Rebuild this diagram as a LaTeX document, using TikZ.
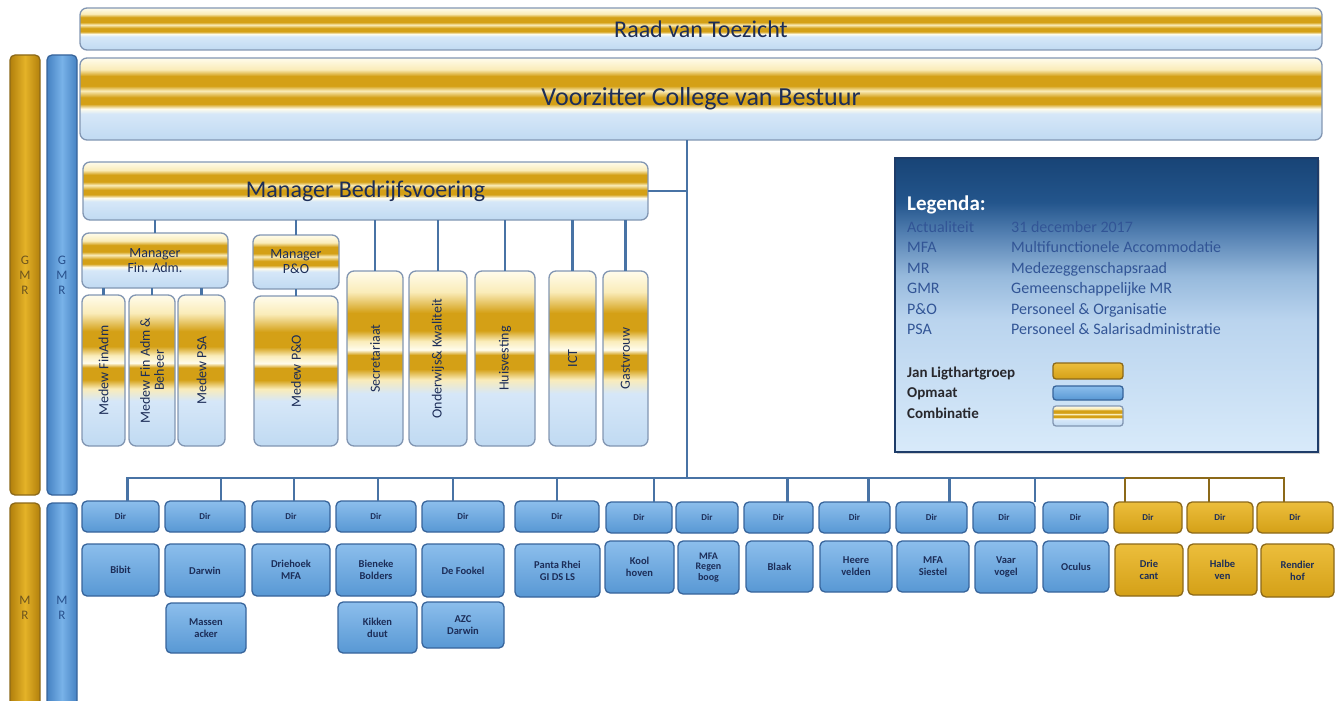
\documentclass[tikz,border=0pt]{standalone}
\usepackage{fontspec}
\setmainfont{Carlito}
\usetikzlibrary{shadows}
\definecolor{gold}{RGB}{212,160,23}
\definecolor{goldD}{RGB}{178,128,12}
\definecolor{goldL}{RGB}{228,178,40}
\definecolor{goldT}{RGB}{236,190,60}
\definecolor{goldB}{RGB}{140,105,25}
\definecolor{goldTxt}{RGB}{110,85,30}
\definecolor{blueM}{RGB}{88,152,212}
\definecolor{blueT}{RGB}{140,190,236}
\definecolor{blueD}{RGB}{70,130,195}
\definecolor{blueL}{RGB}{120,178,232}
\definecolor{blueB}{RGB}{55,100,155}
\definecolor{blueTxt}{RGB}{40,80,140}
\definecolor{navy}{RGB}{28,45,88}
\definecolor{cbl}{RGB}{192,218,242}
\definecolor{cbl2}{RGB}{214,231,248}
\definecolor{ccream}{RGB}{250,236,185}
\definecolor{cwhite}{RGB}{255,252,236}
\definecolor{cgold}{RGB}{212,160,22}
\definecolor{cbord}{RGB}{130,150,178}
\definecolor{lineC}{RGB}{72,115,165}
\definecolor{legB}{RGB}{30,60,105}
\definecolor{legC}{RGB}{50,85,150}
\definecolor{leg0}{RGB}{24,68,118}
\definecolor{leg1}{RGB}{35,85,140}
\definecolor{leg2}{RGB}{80,125,175}
\definecolor{leg3}{RGB}{150,185,220}
\definecolor{leg4}{RGB}{186,212,238}
\definecolor{leg5}{RGB}{216,234,250}
\definecolor{darkT}{RGB}{40,40,45}
\pgfdeclareverticalshading{combo}{100bp}{color(0bp)=(cbl); color(25bp)=(cbl); color(41bp)=(cbl2); color(44bp)=(cwhite); color(47bp)=(cgold); color(51bp)=(cgold); color(55bp)=(ccream); color(58bp)=(cgold); color(64bp)=(cgold); color(68bp)=(ccream); color(75bp)=(cwhite); color(100bp)=(cwhite)}
\pgfdeclareverticalshading{combov}{100bp}{color(0bp)=(cbl); color(25bp)=(cbl); color(40bp)=(cbl2); color(44bp)=(ccream); color(47bp)=(cgold); color(51bp)=(cgold); color(52.5bp)=(cwhite); color(55bp)=(ccream); color(58bp)=(cgold); color(63bp)=(cgold); color(69bp)=(ccream); color(75bp)=(cwhite); color(100bp)=(cwhite)}
\pgfdeclareverticalshading{legsh}{100bp}{color(0bp)=(leg5); color(25bp)=(leg5); color(47.5bp)=(leg4); color(55bp)=(leg3); color(62.5bp)=(leg2); color(67.5bp)=(leg1); color(75bp)=(leg0); color(100bp)=(leg0)}
\newcommand\fs[2]{\fontsize{#1}{#2}\selectfont}
\newcommand\mkbox[7]{\node[#1, minimum width={#4pt-#2pt}, minimum height={#5pt-#3pt}] (#6) at ({(#2+#4)/2},{(#3+#5)/2}) {#7};}
\newcommand\dirconn[3]{\coordinate (#1c) at ([xshift=#2pt]#1.north); \draw[#3] (#1c) -- (#1c |- bus);}
\tikzset{
  base/.style={inner sep=0pt, outer sep=0pt, align=center},
  combo/.style={base, rounded corners=7pt, draw=cbord, line width=1.3pt, shade, shading=combo, text=navy},
  combov/.style={base, rounded corners=7pt, draw=cbord, line width=1.3pt, shade, shading=combov},
  vtext/.style={inner sep=0pt, rotate=90, text=navy, align=center, font=\fs{14}{14}},
  bbox/.style={base, rounded corners=5pt, draw=blueB, line width=1.3pt, top color=blueT, bottom color=blueM, text=navy},
  gbox/.style={base, rounded corners=5pt, draw=goldB, line width=1.3pt, top color=goldT, bottom color=gold, text=navy},
  dirb/.style={bbox, font=\bfseries\fs{9}{10}},
  dirg/.style={gbox, font=\bfseries\fs{9}{10}},
  nameb/.style={bbox, font=\bfseries\fs{10.5}{12}},
  nameg/.style={gbox, font=\bfseries\fs{10.5}{12}},
  gbar/.style={base, rounded corners=5pt, draw=goldB, line width=1.3pt, left color=goldD, right color=goldD, middle color=goldL, text=goldTxt, font=\fs{13}{15}},
  bbar/.style={base, rounded corners=5pt, draw=blueB, line width=1.3pt, left color=blueD, right color=blueD, middle color=blueL, text=blueTxt, font=\fs{13}{15}},
  conn/.style={draw=lineC, line width=2.2pt},
  gconn/.style={draw=goldB, line width=2.2pt},
  legend/.style={base, draw=legB, line width=1.5pt, shade, shading=legsh, drop shadow={opacity=0.35}},
  legt/.style={anchor=base west, inner sep=0pt, text=legC, font=\fs{16}{18}},
  legh/.style={anchor=base west, inner sep=0pt, text=white, font=\bfseries\fs{21}{24}},
  legb/.style={anchor=base west, inner sep=0pt, text=darkT, font=\bfseries\fs{15}{17}},
}
\begin{document}
\begin{tikzpicture}[x=1pt,y=-1pt]
\useasboundingbox (0,0) rectangle (1341,701);
% top bars
\mkbox{combo, font=\fs{24}{26}}{80}{8}{1322}{50}{rvt}{Raad van Toezicht}
\mkbox{combo, font=\fs{26}{28}}{80}{58}{1322}{140}{vcb}{Voorzitter College van Bestuur}
% side bars
\mkbox{gbar}{10}{55}{40}{495}{gmrg}{G\\M\\R}
\mkbox{bbar}{47}{55}{77}{495}{gmrb}{G\\M\\R}
\mkbox{gbar}{10}{503}{40}{712}{mrg}{M\\R}
\mkbox{bbar}{47}{503}{77}{712}{mrb}{M\\R}
% management
\mkbox{combo, font=\fs{24}{26}}{83}{162}{648}{220}{mb}{Manager Bedrijfsvoering}
\mkbox{combo, font=\fs{14}{15}}{82}{233}{228}{288}{mfa}{Manager\\Fin. Adm.}
\mkbox{combo, font=\fs{14}{15}}{253}{235}{339}{289}{mpo}{Manager\\P\&O}
\mkbox{combov}{82}{295}{125}{446}{m1}{}
\mkbox{combov}{129}{295}{175}{446}{m2}{}
\mkbox{combov}{178}{295}{225}{446}{m3}{}
\mkbox{combov}{254}{296}{338}{446}{mpo2}{}
\mkbox{combov}{347}{271}{403}{446}{sec}{}
\mkbox{combov}{409}{271}{467}{446}{ok}{}
\mkbox{combov}{475}{271}{535}{446}{hv}{}
\mkbox{combov}{549}{271}{596}{446}{ict}{}
\mkbox{combov}{603}{271}{648}{446}{gv}{}
\node[vtext] (tm1) at (m1) {Medew FinAdm};
\node[vtext] (tm2) at (m2) {Medew Fin Adm \&\\Beheer};
\node[vtext] (tm3) at (m3) {Medew PSA};
\node[vtext] (tmpo2) at (mpo2) {Medew P\&O};
\node[vtext] (tsec) at (sec) {Secretariaat};
\node[vtext] (tok) at (ok) {Onderwijs\& Kwaliteit};
\node[vtext] (thv) at (hv) {Huisvesting};
\node[vtext] (tict) at (ict) {ICT};
\node[vtext] (tgv) at (gv) {Gastvrouw};
% connectors management
\coordinate (hub) at (687,191);
\coordinate (bus) at (687,478);
\coordinate (busL) at (126,478);
\coordinate (busM) at (1125,478);
\coordinate (busR) at (1285,478);
\draw[conn] (vcb.south -| hub) -- (bus);
\draw[conn] (mb.east) -- (hub);
\foreach \n in {mfa,mpo,sec,ok,hv,ict,gv} {\draw[conn] (\n.north) -- (\n.north |- mb.south);}
\foreach \n in {m1,m2,m3} {\draw[conn] (\n.north) -- (\n.north |- mfa.south);}
\draw[conn] (mpo2.north) -- (mpo2.north |- mpo.south);
% legend
\mkbox{legend}{895}{158}{1318}{452}{leg}{}
\node[legh] (lh) at (907,210) {Legenda:};
\node[legt] (l1a) at (907,232) {Actualiteit};
\node[legt] (l1b) at (1011,232) {31 december 2017};
\node[legt] (l2a) at (907,252.5) {MFA};
\node[legt] (l2b) at (1011,252.5) {Multifunctionele Accommodatie};
\node[legt] (l3a) at (907,273) {MR};
\node[legt] (l3b) at (1011,273) {Medezeggenschapsraad};
\node[legt] (l4a) at (907,293.5) {GMR};
\node[legt] (l4b) at (1011,293.5) {Gemeenschappelijke MR};
\node[legt] (l5a) at (907,314) {P\&O};
\node[legt] (l5b) at (1011,314) {Personeel \& Organisatie};
\node[legt] (l6a) at (907,334.5) {PSA};
\node[legt] (l6b) at (1011,334.5) {Personeel \& Salarisadministratie};
\node[legb] (lj) at (907,377) {Jan Ligthartgroep};
\node[legb] (lo) at (907,397) {Opmaat};
\node[legb] (lc) at (907,418) {Combinatie};
\mkbox{gbox, rounded corners=3pt}{1053}{363}{1123}{379}{sw1}{}
\mkbox{bbox, rounded corners=3pt}{1053}{386}{1123}{400}{sw2}{}
\mkbox{combo, rounded corners=3pt}{1053}{406}{1123}{426}{sw3}{}
% schools: Dir row
\mkbox{dirb}{82}{501}{159}{532}{d1}{Dir}
\mkbox{dirb}{165}{501}{245}{532}{d2}{Dir}
\mkbox{dirb}{252}{501}{330}{532}{d3}{Dir}
\mkbox{dirb}{336}{501}{416}{532}{d4}{Dir}
\mkbox{dirb}{422}{501}{504}{532}{d5}{Dir}
\mkbox{dirb}{515}{501}{599}{532}{d6}{Dir}
\mkbox{dirb}{606}{502}{672}{533}{d7}{Dir}
\mkbox{dirb}{676}{502}{738}{533}{d8}{Dir}
\mkbox{dirb}{744}{502}{813}{533}{d9}{Dir}
\mkbox{dirb}{819}{502}{890}{533}{d10}{Dir}
\mkbox{dirb}{896}{502}{967}{533}{d11}{Dir}
\mkbox{dirb}{973}{502}{1035}{533}{d12}{Dir}
\mkbox{dirb}{1043}{502}{1108}{533}{d13}{Dir}
\mkbox{dirg}{1114}{502}{1182}{533}{d14}{Dir}
\mkbox{dirg}{1187}{502}{1253}{533}{d15}{Dir}
\mkbox{dirg}{1257}{502}{1333}{533}{d16}{Dir}
% schools: names
\mkbox{nameb}{82}{544}{159}{596}{s1}{Bibit}
\mkbox{nameb}{165}{544}{245}{597}{s2}{Darwin}
\mkbox{nameb}{166}{603}{246}{653}{s2b}{Massen\\acker}
\mkbox{nameb}{252}{544}{330}{596}{s3}{Driehoek\\MFA}
\mkbox{nameb}{336}{544}{416}{596}{s4}{Bieneke\\Bolders}
\mkbox{nameb}{338}{602}{417}{653}{s4b}{Kikken\\duut}
\mkbox{nameb}{422}{544}{504}{597}{s5}{De Fookel}
\mkbox{nameb}{422}{602}{504}{648}{s5b}{AZC\\Darwin}
\mkbox{nameb}{515}{544}{600}{597}{s6}{Panta Rhei\\GI DS LS}
\mkbox{nameb}{605}{541}{674}{593}{s7}{Kool\\hoven}
\mkbox{nameb, font=\bfseries\fs{10}{10.5}}{678}{541}{739}{594}{s8}{MFA\\Regen\\boog}
\mkbox{nameb}{746}{541}{813}{592}{s9}{Blaak}
\mkbox{nameb}{820}{541}{892}{592}{s10}{Heere\\velden}
\mkbox{nameb}{897}{541}{969}{592}{s11}{MFA\\Siestel}
\mkbox{nameb}{975}{541}{1037}{593}{s12}{Vaar\\vogel}
\mkbox{nameb}{1043}{541}{1109}{592}{s13}{Oculus}
\mkbox{nameg}{1115}{544}{1183}{596}{s14}{Drie\\cant}
\mkbox{nameg}{1188}{544}{1257}{595}{s15}{Halbe\\ven}
\mkbox{nameg}{1261}{544}{1334}{597}{s16}{Rendier\\hof}
% bus connectors
\draw[conn] (busL) -- (busM);
\draw[gconn] (busM) -- (busR);
\dirconn{d1}{7}{conn}
\dirconn{d2}{16}{conn}
\dirconn{d3}{3}{conn}
\dirconn{d4}{2}{conn}
\dirconn{d5}{-10}{conn}
\dirconn{d6}{0}{conn}
\dirconn{d7}{15}{conn}
\dirconn{d9}{9}{conn}
\dirconn{d10}{14}{conn}
\dirconn{d11}{18}{conn}
\coordinate (d12c) at (d12.north east);
\draw[conn] (d12c) -- (d12c |- bus);
\dirconn{d14}{-23}{gconn}
\dirconn{d15}{-11}{gconn}
\dirconn{d16}{-11}{gconn}
\end{tikzpicture}
\end{document}
